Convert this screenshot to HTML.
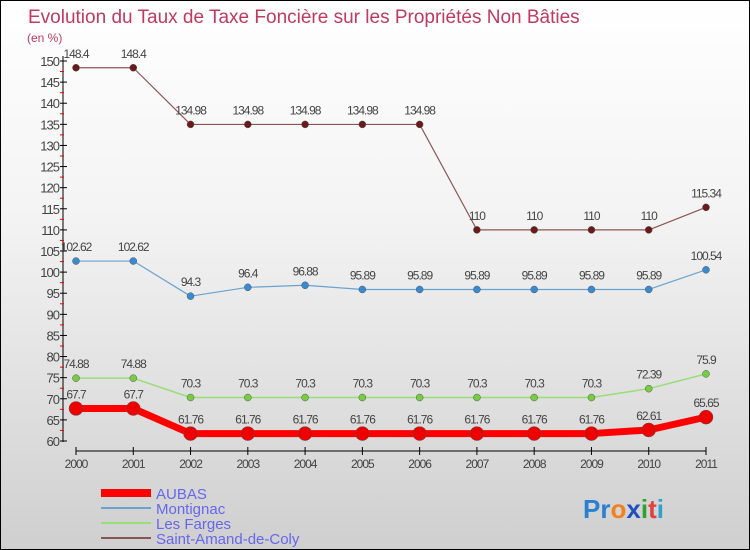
<!DOCTYPE html>
<html><head><meta charset="utf-8"><style>
body{margin:0}
#c{width:750px;height:550px;position:relative;box-sizing:border-box;border:1px solid #000;background:linear-gradient(#ffffff 0%,#f3f3f3 40%,#cfcfcf 100%);overflow:hidden;font-family:"Liberation Sans",sans-serif}
</style></head><body>
<div id="c">
<svg id="s" width="750" height="550">
<text x="27" y="22" font-size="19" fill="#c0395f">Evolution du Taux de Taxe Foncière sur les Propriétés Non Bâties</text>
<text x="26" y="41" font-size="12" fill="#c0395f">(en %)</text>
<g id="g"></g>
<g>
<line x1="100" y1="492" x2="150" y2="492" stroke="#f00" stroke-width="8"/>
<text x="155" y="498" font-size="15" fill="#6666ee">AUBAS</text>
<line x1="100" y1="507" x2="150" y2="507" stroke="#6aa3d0" stroke-width="2"/>
<text x="155" y="513" font-size="15" fill="#6666ee">Montignac</text>
<line x1="100" y1="522" x2="150" y2="522" stroke="#99dd77" stroke-width="2"/>
<text x="155" y="528" font-size="15" fill="#6666ee">Les Farges</text>
<line x1="100" y1="537" x2="150" y2="537" stroke="#8a5555" stroke-width="2"/>
<text x="155" y="543" font-size="15" fill="#6666ee">Saint-Amand-de-Coly</text>
</g>
<text x="582" y="517" font-size="26" font-weight="bold"><tspan fill="#2a7fd0">Pr</tspan><tspan fill="#f08020">o</tspan><tspan fill="#2050c0">x</tspan><tspan fill="#30a030">i</tspan><tspan fill="#e04040">t</tspan><tspan fill="#30a0d0">i</tspan></text>
</svg>
</div>
<script>
const years=[2000,2001,2002,2003,2004,2005,2006,2007,2008,2009,2010,2011];
const aubas=[67.7,67.7,61.76,61.76,61.76,61.76,61.76,61.76,61.76,61.76,62.61,65.65];
const montignac=[102.62,102.62,94.3,96.4,96.88,95.89,95.89,95.89,95.89,95.89,95.89,100.54];
const lesFarges=[74.88,74.88,70.3,70.3,70.3,70.3,70.3,70.3,70.3,70.3,72.39,75.9];
const saintAmand=[148.4,148.4,134.98,134.98,134.98,134.98,134.98,110,110,110,110,115.34];
const yTicks=[60,65,70,75,80,85,90,95,100,105,110,115,120,125,130,135,140,145,150];
const NS="http://www.w3.org/2000/svg",g=document.getElementById('g');
const X=i=>75+i*(630/11), Y=v=>440-(v-60)*(380/90);
function mk(t,a,name){const e=document.createElementNS(NS,t);for(const k in a)e.setAttribute(k,a[k]);


g.appendChild(e);return e;}
mk('line',{x1:62,y1:55,x2:62,y2:441,stroke:'#000'},'y-axis-line');
yTicks.forEach(v=>{mk('line',{x1:59,y1:Y(v),x2:66,y2:Y(v),stroke:'#000'},'y-tick');
 const t=mk('text',{x:58,y:Y(v)+5,'font-size':13,fill:'#444','text-anchor':'end','letter-spacing':'-1'},'y-tick-label');t.textContent=v;
 if(v<150)mk('line',{x1:59,y1:Y(v+2.5),x2:63,y2:Y(v+2.5),stroke:'#e00'},'y-minor-tick');});
mk('line',{x1:75,y1:450,x2:705,y2:450,stroke:'#000'},'x-axis-line');
years.forEach((y,i)=>{mk('line',{x1:X(i),y1:446,x2:X(i),y2:454,stroke:'#000'},'x-tick');
 const t=mk('text',{x:X(i),y:467,'font-size':12,fill:'#444','text-anchor':'middle','letter-spacing':'-1'},'x-tick-label');t.textContent=y;});
function series(d,col,dot,w,r,name){
 mk('polyline',{points:d.map((v,i)=>X(i)+','+Y(v)).join(' '),fill:'none',stroke:col,'stroke-width':w,'stroke-linejoin':'round'},name+'-line');
 d.forEach((v,i)=>{mk('circle',{cx:X(i),cy:Y(v),r:r,fill:dot,stroke:'#555','stroke-width':0.5},name+'-point');
 const t=mk('text',{x:X(i),y:Y(v)-10,'font-size':12,fill:'#444','text-anchor':'middle','letter-spacing':'-1'},name+'-value-label');t.textContent=v;});
}
series(saintAmand,'#8a5555','#6a1a1a',1.2,3.5,'saint-amand');
series(montignac,'#6aa3d0','#3a8ad0',1.2,3.5,'montignac');
series(lesFarges,'#99dd77','#77cc44',1.5,3.5,'les-farges');
series(aubas,'#f00','#e00',7,7,'aubas');
</script>
</body></html>
